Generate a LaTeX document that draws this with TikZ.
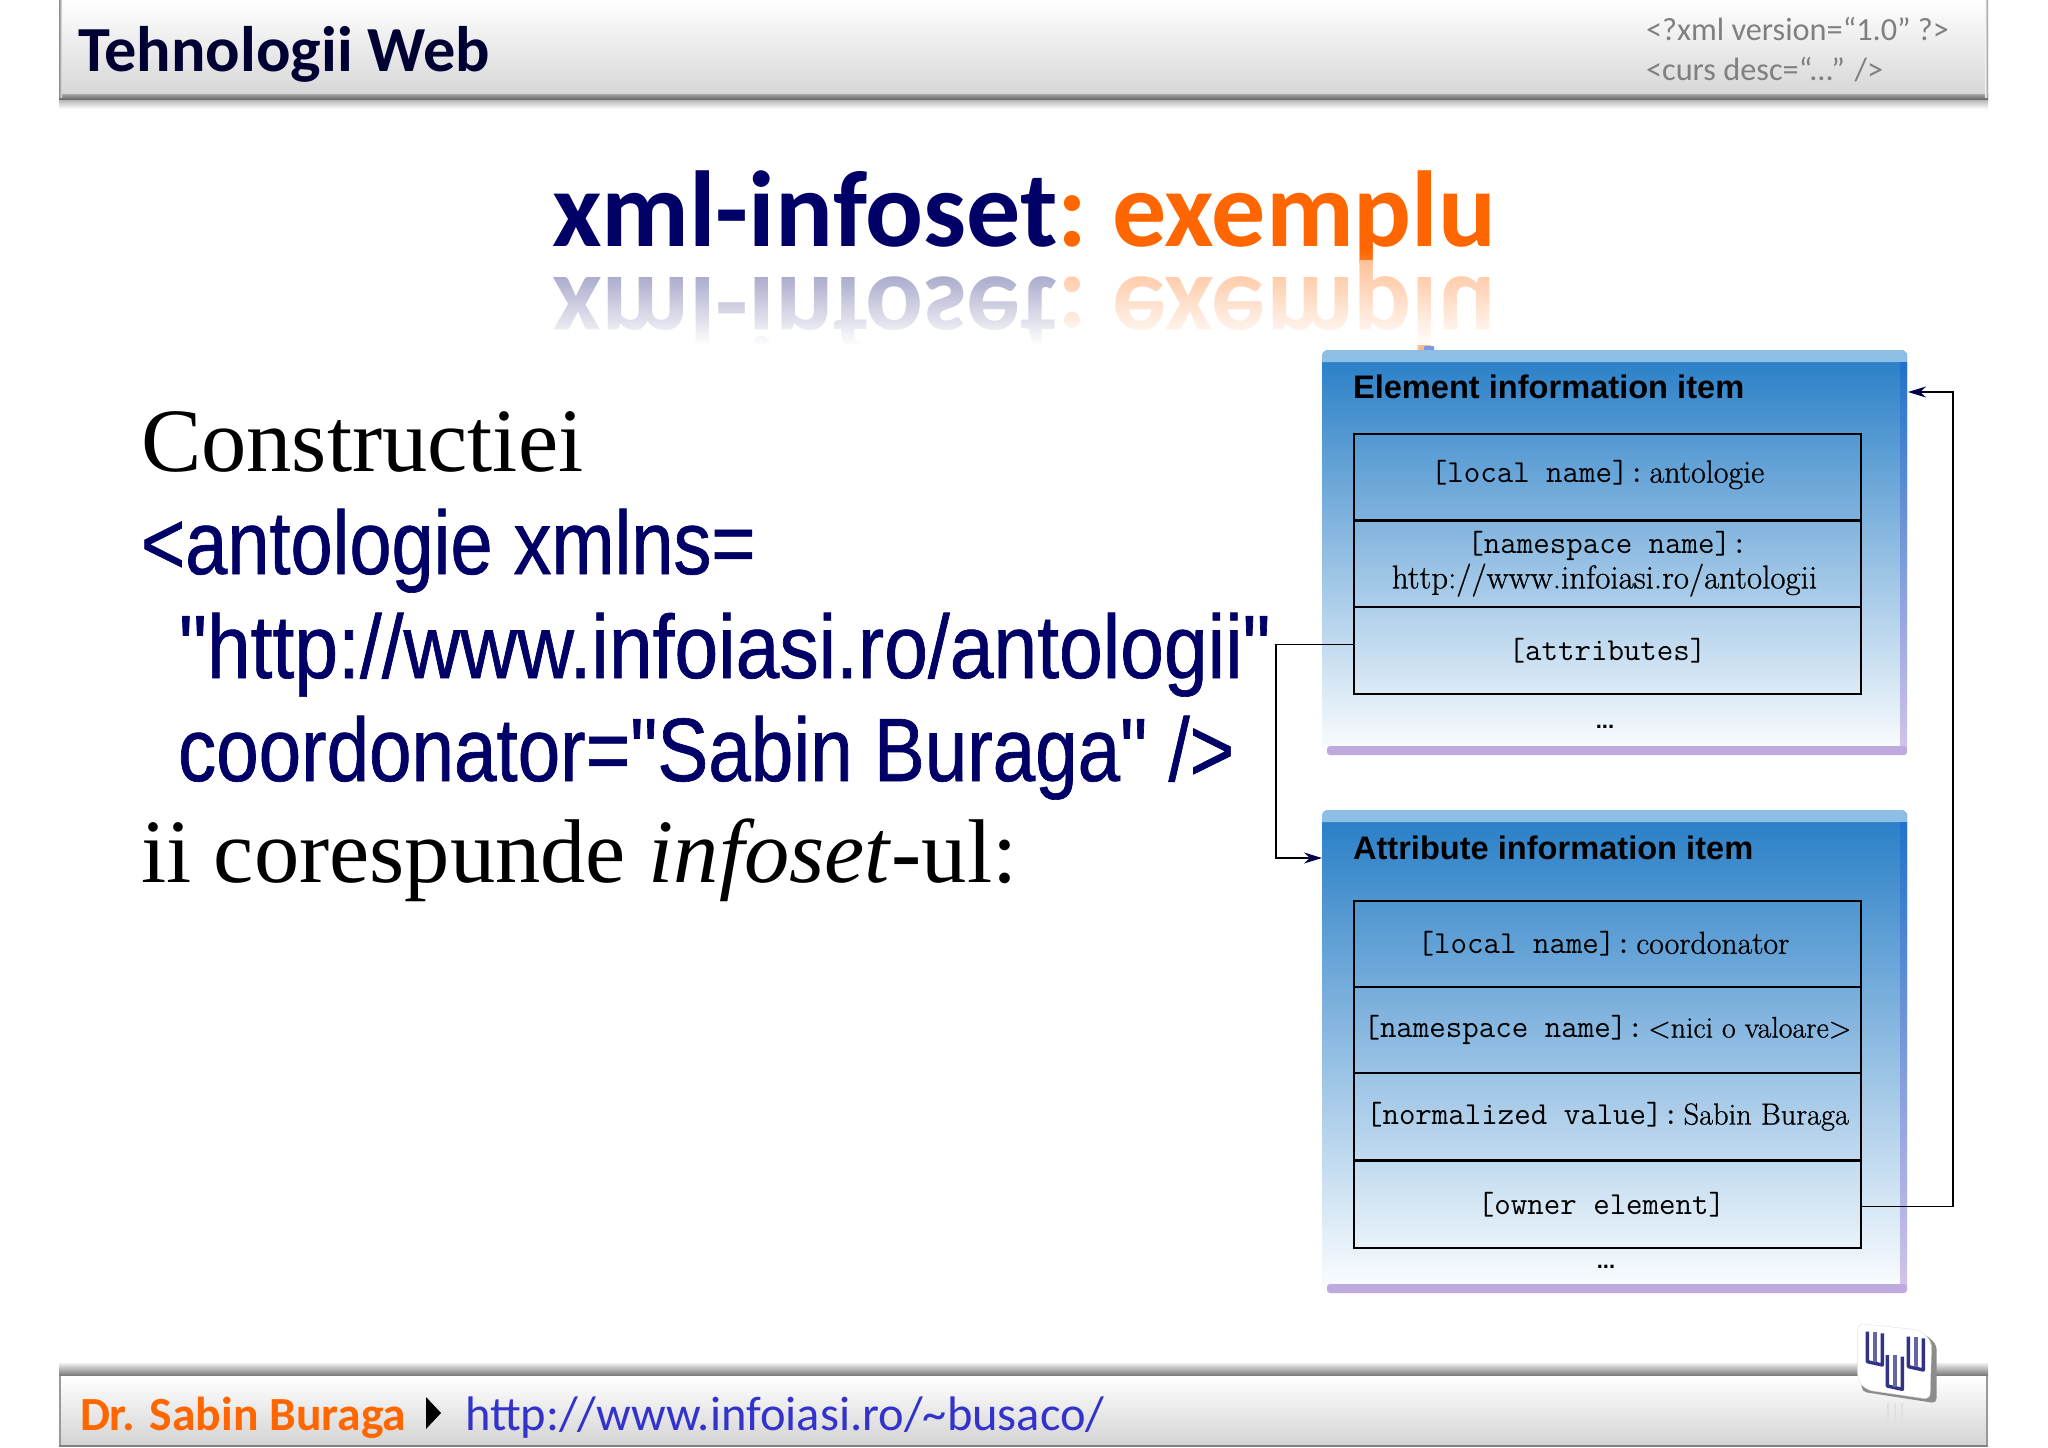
\documentclass[tikz,border=0pt]{standalone}
\usepackage{fontspec}
\usetikzlibrary{arrows.meta,fadings,calc}
\setmainfont{Latin Modern Roman}
\newfontfamily\calb{Carlito}
\newfontfamily\arialn[FakeStretch=0.80,FakeBold=0.7]{Liberation Sans}
\newfontfamily\arialb{Liberation Sans}
\newfontfamily\camb{Liberation Serif}
\newfontfamily\cellt{Latin Modern Mono}
\newfontfamily\cellr[FakeBold=0.8]{Latin Modern Roman}
\newcommand{\fs}[1]{\fontsize{#1}{#1}\selectfont}
\definecolor{navy}{RGB}{0,0,102}
\definecolor{orng}{RGB}{255,102,0}
\definecolor{bA}{RGB}{38,125,198}
\definecolor{bB}{RGB}{148,193,228}
\definecolor{bC}{RGB}{253,254,255}
\definecolor{lav}{RGB}{190,170,222}
\definecolor{strip}{RGB}{140,190,230}
\tikzset{
  txt/.style={anchor=base west,inner sep=0pt,outer sep=0pt},
  panel/.style={rectangle,rounded corners=6pt,anchor=north west,inner sep=0pt,top color=bA,middle color=bB,bottom color=bC,shading angle=0},
  cellbox/.style={rectangle,draw=black,line width=2pt,anchor=north west,inner sep=0pt,minimum width=507pt,align=center},
  ttl/.style={txt,font=\arialb\bfseries\fs{32.6}},
  conn/.style={draw=black,line width=1.6pt,-{Stealth[length=18pt,width=11pt,color=black!70!blue]}},
  big/.style={txt,font=\arialn\fs{90},text=navy},
  ser/.style={txt,font=\camb\fs{90.5},text=black},
  dots/.style={anchor=center,inner sep=0pt,font=\arialb\bfseries\fs{22}}
}
\newcommand{\tcell}[1]{{\cellt\fs{32}#1}}
\newcommand{\rcell}[2]{{\cellr\fs{#1}#2}}
\begin{document}
\begin{tikzpicture}[x=1pt,y=-1pt]
\useasboundingbox (0,0) rectangle (2048,1448);
\fill[white] (0,0) rectangle (2048,1448);
% header
\shade[top color=white,bottom color=black!16] (59,0) rectangle (1988,95);
\shade[top color=black!35,bottom color=black!62] (59,94) rectangle (1988,100);
\shade[top color=black!28,bottom color=white] (59,100) rectangle (1988,109);
\shade[left color=black!45,right color=black!5] (59,0) rectangle (62,97);
\shade[left color=black!5,right color=black!45] (1985,0) rectangle (1988,97);
\node[txt,font=\calb\bfseries\fs{64.3},text={rgb,255:red,0;green,0;blue,51}] (headL) at (78,71) {Tehnologii Web};
\node[txt,font=\calb\fs{32.3},text=black!50] (headR1) at (1646,40) {<?xml version=“1.0” ?>};
\node[txt,font=\calb\fs{32.3},text=black!50] (headR2) at (1646,80) {<curs desc=“...” />};
% title + reflection
\node[txt,font=\calb\bfseries\fs{108}] (title) at (552,246) {\textcolor{navy}{xml-infoset}\textcolor{orng}{:\hspace{-8pt} exemplu}};
\node[txt,font=\calb\bfseries\fs{108},transform shape,yscale=-1] (titleR) at (552,277) {\textcolor{navy!45}{xml-infoset}\textcolor{orng!45}{:\hspace{-8pt} exemplu}};
\fill[white,path fading=north] (540,250) rectangle (1510,345);
\fill[white] (540,344) rectangle (1320,372);
% body text
\node[ser] (l1) at (141,471) {Constructiei};
\node[big] (l2) at (141,574) {\scalebox{1.052}[1]{<antologie xmlns=}};
\node[big] (l3) at (179,678) {\scalebox{1.092}[1]{"http://www.infoiasi.ro/antologii"}};
\node[big] (l4) at (178,781) {\scalebox{1.061}[1]{coordonator="Sabin Buraga" />}};
\node[ser] (l5) at (141,882) {ii corespunde \textit{infoset}-ul:};
% element panel
\fill[rounded corners=1pt,color=bB!80!blue] (1424,346) rectangle (1434,352);
\node[panel,minimum width=585pt,minimum height=405pt] (elem) at (1322,350) {};
\fill[strip] (1322,362) [rounded corners=6pt] -- (1322,350) -- (1907,350) [sharp corners] -- (1907,362) -- cycle;
\shade[top color=bA!90!blue,bottom color=lav!70] (1900,362) rectangle (1907,748);
\fill[lav,rounded corners=3pt] (1327,746) rectangle (1907,755);
\node[ttl] (elemT) at (1353,398) {Element information item};
\node[cellbox,minimum height=86pt] (e1) at (1353,433) {\raisebox{11pt}{\tcell{[local name]:} \rcell{32}{antologie}}\hspace*{20pt}};
\node[cellbox,minimum height=86pt] (e2) at (1353,520) {\tcell{[namespace name]:}\\[2pt] \rcell{33}{http://www.infoiasi.ro/antologii}\hspace*{6pt}};
\node[cellbox,minimum height=87pt] (e3) at (1353,606) {\raisebox{3pt}{\tcell{[attributes]}}};
\node[dots] (e4) at (1605,727) {...};
% attribute panel
\node[panel,minimum width=585pt,minimum height=483pt] (attr) at (1322,810) {};
\fill[strip] (1322,822) [rounded corners=6pt] -- (1322,810) -- (1907,810) [sharp corners] -- (1907,822) -- cycle;
\shade[top color=bA!90!blue,bottom color=lav!70] (1900,822) rectangle (1907,1286);
\fill[lav,rounded corners=3pt] (1327,1284) rectangle (1907,1293);
\node[ttl] (attrT) at (1353,859) {Attribute information item};
\node[cellbox,minimum height=86pt] (a1) at (1353,900) {\tcell{[local name]:} \rcell{31.8}{coordonator}\hspace*{8pt}};
\node[cellbox,minimum height=86pt] (a2) at (1353,986) {\tcell{[namespace name]:} \rcell{29.8}{<nici o valoare>}};
\node[cellbox,minimum height=87pt] (a3) at (1353,1072) {\tcell{[normalized value]:} \rcell{30.4}{Sabin Buraga}};
\node[cellbox,minimum height=87pt] (a4) at (1353,1160) {\raisebox{3pt}{\tcell{[owner element]}}\hspace*{12pt}};
\node[dots] (a5) at (1606,1267) {...};
% connectors
\coordinate (c1) at ([yshift=6pt]e3.west);
\coordinate (c3) at (1276,858);
\coordinate (c2) at (c1 -| c3);
\coordinate (c4) at (elem.west |- c3);
\draw[conn] (c1) -- (c2) -- (c3) -- (c4);
\coordinate (d1) at ([yshift=-2pt]a4.east);
\coordinate (d3) at (1953,392);
\coordinate (d2) at (d1 -| d3);
\coordinate (d4) at (1908,392);
\draw[conn] (d1) -- (d2) -- (d3) -- (d4);
% footer
\shade[top color=black!6,bottom color=black!55] (59,1363) rectangle (1988,1376);
\shade[top color=white,bottom color=black!17] (59,1376) rectangle (1988,1445);
\fill[black!50] (59,1445) rectangle (1988,1447);
\fill[black!40] (59,1376) rectangle (61,1445);
\fill[black!40] (1986,1376) rectangle (1988,1445);
\node[txt,font=\calb\bfseries\fs{47.6},text=orng] (footN) at (80,1430) {Dr. Sabin Buraga};
\fill[black] (426,1397) -- (441,1413) -- (426,1429) -- cycle;
\node[txt,font=\calb\fs{48.5},text={rgb,255:red,51;green,51;blue,204}] (footU) at (465,1430) {http://www.infoiasi.ro/\textasciitilde busaco/};
% logo
\begin{scope}[shift={(1780,1300)},x=.3333pt,y=-.3333pt]
\foreach \xx in {325,345,365}{\draw[line width=2pt,black!12] (\xx,310) -- (\xx,365);}
\fill[black!45,rounded corners=5pt] (243,80) -- (440,105) -- (470,135) -- (470,310) -- (245,275) -- cycle;
\fill[white,rounded corners=6pt,draw=black!12] (233,70) -- (420,90) -- (455,125) -- (450,298) -- (260,270) -- (233,240) -- cycle;
\foreach \dx/\dy in {0/0,123/15}{
\draw[line width=3.4pt,color=navy!80,line join=round] (262+\dx,95+\dy) -- (262+\dx,185+\dy) -- (307+\dx,195+\dy) -- (307+\dx,100+\dy);
\draw[line width=3.4pt,color=navy!60] (285+\dx,97+\dy) -- (285+\dx,185+\dy);}
\draw[line width=3.4pt,color=navy!80,line join=round] (322,165) -- (322,258) -- (367,268) -- (367,170);
\draw[line width=3.4pt,color=navy!60] (345,165) -- (345,260);
\end{scope}
\end{tikzpicture}
\end{document}
